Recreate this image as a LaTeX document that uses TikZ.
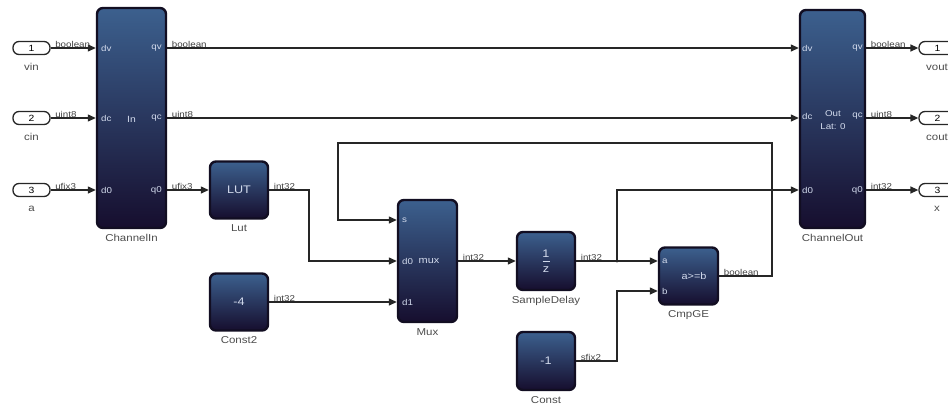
\documentclass[tikz,border=0pt]{standalone}
\usepackage{fontspec}
\setmainfont[FakeStretch=1.15]{Liberation Sans}
\usetikzlibrary{arrows.meta,positioning}

\definecolor{blktop}{RGB}{60,96,142}
\definecolor{blkmid}{RGB}{34,44,86}
\definecolor{blkbot}{RGB}{22,14,46}
\definecolor{blkedge}{RGB}{18,14,34}
\definecolor{porttxt}{RGB}{210,218,236}

\begin{document}
\begin{tikzpicture}[x=1pt, y=-1pt,
  blk/.style={draw=blkedge, line width=2.4pt, rounded corners=6pt,
    top color=blktop, middle color=blkmid, bottom color=blkbot,
    text=porttxt, font=\fontsize{11}{12}\selectfont, inner sep=0pt},
  portlbl/.style={text=porttxt, font=\fontsize{8.5}{9}\selectfont, inner sep=1pt},
  blkname/.style={text=black!70, font=\fontsize{10}{11}\selectfont, inner sep=1pt},
  iolbl/.style={text=black!70, font=\fontsize{10}{11}\selectfont, inner sep=1pt},
  ioport/.style={draw=black!85, line width=1.3pt, fill=white, rounded corners=6pt,
    minimum width=37pt, minimum height=13pt, inner sep=0pt, font=\fontsize{9}{10}\selectfont},
  sig/.style={draw=black!85, line width=1.3pt, -{Triangle[length=8pt,width=7pt]}},
  siglbl/.style={anchor=south west, xshift=3pt, yshift=-1pt, inner sep=1pt,
    text=black!75, font=\fontsize{8.5}{9}\selectfont}]

\useasboundingbox (0,0) rectangle (948,410);

% ── Blocks ──
\node[blk, minimum width=69pt, minimum height=220pt] (chin)  at (131.5,118) {};
\node[blk, minimum width=65pt, minimum height=218pt] (chout) at (832.5,119) {};
\node[blk, minimum width=58pt, minimum height=57pt]  (lut)   at (239,190)   {LUT};
\node[blk, minimum width=58pt, minimum height=57pt]  (c2)    at (239,302)   {-4};
\node[blk, minimum width=59pt, minimum height=122pt] (mux)   at (427.5,261) {};
\node[blk, minimum width=58pt, minimum height=58pt, align=center] (dly) at (546,261)
  {1\\[-4pt]\rule[3pt]{7pt}{0.8pt}\\[-5pt]z};
\node[blk, minimum width=59pt, minimum height=57pt]  (cmp)   at (688.5,276) {};
\node[blk, minimum width=58pt, minimum height=58pt]  (c1)    at (546,361)   {-1};

% Block names
\node[blkname, below=4pt of chin]  (chin-name)  {ChannelIn};
\node[blkname, below=4pt of chout] (chout-name) {ChannelOut};
\node[blkname, below=4pt of lut]   (lut-name)   {Lut};
\node[blkname, below=4pt of c2]    (c2-name)    {Const2};
\node[blkname, below=4pt of mux]   (mux-name)   {Mux};
\node[blkname, below=4pt of dly]   (dly-name)   {SampleDelay};
\node[blkname, below=4pt of cmp]   (cmp-name)   {CmpGE};
\node[blkname, below=4pt of c1]    (c1-name)    {Const};

% Port labels inside blocks
\foreach \p/\y in {v/48, c/118, 0/190} {
  \node[portlbl, anchor=west] (chin-d\p)  at (100,\y) {d\p};
  \node[portlbl, anchor=east] (chin-q\p)  at (163,\y) {q\p};
}
\foreach \p/\y in {v/48, c/116, 0/190} {
  \node[portlbl, anchor=west] (chout-d\p) at (801,\y) {d\p};
  \node[portlbl, anchor=east] (chout-q\p) at (864,\y) {q\p};
}
\node[portlbl, font=\fontsize{9}{10}\selectfont] (chin-in) at (131.5,119) {In};
\node[portlbl, font=\fontsize{8.5}{12.5}\selectfont, align=center, inner sep=0pt] (chout-lat) at (833,120)
  {Out\\Lat: 0};
\node[portlbl, anchor=west] (mux-s)  at (401,220) {s};
\node[portlbl, anchor=west] (mux-d0) at (401,261) {d0};
\node[portlbl, anchor=west] (mux-d1) at (401,302) {d1};
\node[portlbl, font=\fontsize{9.5}{10}\selectfont] (mux-op) at (429,261) {mux};
\node[portlbl, anchor=west] (cmp-a) at (661,261) {a};
\node[portlbl, anchor=west] (cmp-b) at (661,291) {b};
\node[portlbl, font=\fontsize{9.5}{10}\selectfont] (cmp-op) at (694,276) {a>=b};

% ── Inports / Outports ──
\foreach \n/\nm/\y/\t in {1/vin/48/boolean, 2/cin/118/uint8, 3/a/190/ufix3} {
  \node[ioport] (in\n) at (31.5,\y) {\n};
  \node[iolbl] (in\n-lbl) at (31.5,{\y+19}) {\nm};
  \draw[sig] (in\n) -- node[siglbl, at start] {\t} (chin.west |- in\n);
}
\foreach \n/\nm/\y/\t in {1/vout/48/boolean, 2/cout/118/uint8, 3/x/190/int32} {
  \node[ioport] (out\n) at (937.5,\y) {\n};
  \node[iolbl] (out\n-lbl) at (937,{\y+19}) {\nm};
  \draw[sig] (chout.east |- out\n) -- node[siglbl, at start] {\t} (out\n);
}

% ── Signals ──
\foreach \n/\t in {1/boolean, 2/uint8}
  \draw[sig] (chin.east |- in\n) -- node[siglbl, at start] {\t} (chout.west |- in\n);

\draw[sig] (chin.east |- in3) -- node[siglbl, at start] {ufix3} (lut.west);
\draw[sig] (lut.east) -- node[siglbl, at start] {int32} (309,190) |- (mux.west);
\draw[sig] (c2.east) -- node[siglbl, at start] {int32} (mux.west |- c2.east);
\draw[sig] (mux.east) -- node[siglbl, at start] {int32} (dly.west);

% delay output with branch to ChannelOut d0
\coordinate (br) at (617,261);
\draw[sig] (dly.east) -- node[siglbl, at start] {int32} (cmp.west |- dly.east);
\draw[sig] (br) |- (chout.west |- in3);
\fill[black!85] (br) circle (1.6pt);

\draw[sig] (c1.east) -- node[siglbl, at start] {sfix2} (617,361) |- (cmp.west |- 0,291);

% feedback to mux select
\draw[sig] (cmp.east) -- node[siglbl, at start] {boolean} (772,276) |- (338,143) |- (mux.west |- 0,220);

\end{tikzpicture}
\end{document}
